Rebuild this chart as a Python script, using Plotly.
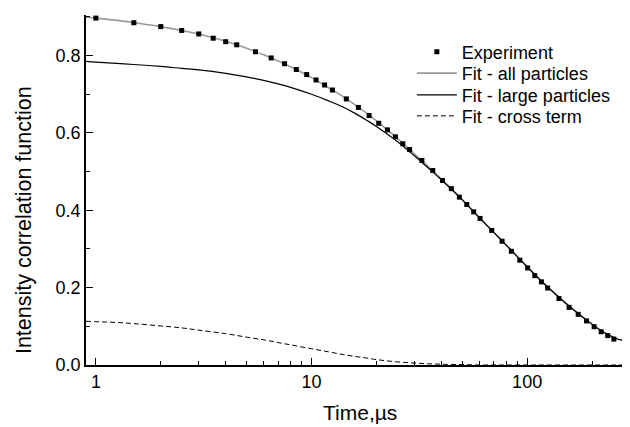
import plotly.graph_objects as go

# Experimental data (time in microseconds, intensity correlation)
exp_t = [1, 1.5, 2, 2.5, 3, 3.5, 4, 4.5,
         5.5, 6.5, 7.5, 8.5, 9.5, 10.5, 11.5, 12.5,
         14.5, 16.5, 18.5, 20.5, 22.5, 24.5, 26.5, 28.5,
         32.5, 36.5, 40.5, 44.5, 48.5, 52.5, 56.5, 60.5,
         68.5, 76.5, 84.5, 92.5, 100.5, 108.5, 116.5, 124.5,
         140.5, 156.5, 172.5, 188.5, 204.5, 220.5, 236.5, 252.5,
         284.5]
exp_g = [0.897, 0.885, 0.875, 0.865, 0.856, 0.845, 0.836, 0.828,
         0.810, 0.794, 0.779, 0.764, 0.751, 0.737, 0.724, 0.711,
         0.688, 0.666, 0.645, 0.625, 0.608, 0.590, 0.572, 0.557,
         0.529, 0.503, 0.477, 0.456, 0.434, 0.415, 0.396, 0.379,
         0.348, 0.320, 0.294, 0.271, 0.251, 0.231, 0.215, 0.199,
         0.172, 0.149, 0.131, 0.114, 0.099, 0.086, 0.076, 0.067,
         0.054]

# Fit curves sampled at these times
fit_t = [0.9, 1, 1.25, 1.5, 2, 2.5, 3, 4, 5, 6, 7, 8, 10, 12, 14, 16, 18, 20,
         25, 30, 35, 40, 50, 60, 70, 80, 100, 120, 150, 180, 220, 260, 300]
fit_all = [0.899, 0.897, 0.891, 0.885, 0.875, 0.865, 0.856, 0.837, 0.819, 0.802,
           0.786, 0.771, 0.743, 0.717, 0.694, 0.672, 0.651, 0.631,
           0.586, 0.546, 0.512, 0.481, 0.428, 0.381, 0.343, 0.310, 0.254,
           0.210, 0.161, 0.125, 0.089, 0.068, 0.061]
fit_large = [0.785, 0.783, 0.780, 0.777, 0.772, 0.767, 0.763, 0.754, 0.745, 0.736,
             0.727, 0.718, 0.700, 0.683, 0.667, 0.650, 0.633, 0.617,
             0.578, 0.541, 0.508, 0.479, 0.427, 0.381, 0.343, 0.310, 0.254,
             0.210, 0.161, 0.125, 0.089, 0.068, 0.061]
fit_cross = [0.113, 0.112, 0.110, 0.107, 0.101, 0.096, 0.090, 0.081, 0.072, 0.065,
             0.058, 0.052, 0.042, 0.034, 0.027, 0.022, 0.018, 0.014,
             0.008, 0.005, 0.003, 0.002, 0.001, 0.0, 0.0, 0.0, 0.0,
             0.0, 0.0, 0.0, 0.0, 0.0, 0.0]

x_ticks = [1, 10, 100]
x_labels = ["1", "10", "100"]
y_ticks = [0.0, 0.2, 0.4, 0.6, 0.8]
y_labels = ["0.0", "0.2", "0.4", "0.6", "0.8"]

FONT = "Liberation Sans, Arial, sans-serif"

fig = go.Figure()
fig.add_trace(go.Scatter(x=fit_t, y=fit_all, mode="lines", name="Fit - all particles",
                         line=dict(color="#9a9a9a", width=1.6, shape="spline"),
                         legend="legend2"))
fig.add_trace(go.Scatter(x=fit_t, y=fit_large, mode="lines", name="Fit - large particles",
                         line=dict(color="black", width=1.2, shape="spline"),
                         legend="legend3"))
fig.add_trace(go.Scatter(x=fit_t, y=fit_cross, mode="lines", name="Fit - cross term",
                         line=dict(color="black", width=1, dash="5px,3px", shape="spline"),
                         legend="legend4"))
fig.add_trace(go.Scatter(x=exp_t, y=exp_g, mode="markers", name="Experiment",
                         marker=dict(symbol="square", size=5, color="black"),
                         legend="legend"))

leg_common = dict(x=0.599, xanchor="left", yanchor="middle",
                  bgcolor="rgba(0,0,0,0)", font=dict(size=18, family=FONT),
                  itemwidth=40, borderwidth=0)

# page body has an 8px margin: shrink the figure so it ends at the window edge
fig.update_layout(
    width=622, height=419,
    margin=dict(l=78, r=0, t=7, b=62),
    paper_bgcolor="white", plot_bgcolor="white",
    font=dict(family=FONT, size=18, color="black"),
    showlegend=True,
    legend=dict(y=0.894, **leg_common),
    legend2=dict(y=0.833, **leg_common),
    legend3=dict(y=0.771, **leg_common),
    legend4=dict(y=0.711, **leg_common),
    xaxis=dict(type="log", range=[-0.0458, 2.477],
               tickvals=x_ticks, ticktext=x_labels,
               ticks="inside", ticklen=7, tickwidth=1.2, tickcolor="black",
               showline=True, linecolor="black", linewidth=1.5,
               showgrid=False, zeroline=False,
               minor=dict(ticks="inside", ticklen=4, tickwidth=1, tickcolor="black",
                          dtick="D1", showgrid=False),
               tickfont=dict(size=18), automargin=False),
    yaxis=dict(range=[0, 0.905],
               tickvals=y_ticks, ticktext=y_labels,
               ticks="inside", ticklen=7, tickwidth=1.2, tickcolor="black",
               showline=True, linecolor="black", linewidth=1.5,
               showgrid=False, zeroline=False,
               minor=dict(ticks="inside", ticklen=4, tickwidth=1, tickcolor="black",
                          dtick=0.1, showgrid=False),
               tickfont=dict(size=18), automargin=False),
    annotations=[
        dict(text="Time,µs", xref="paper", yref="paper", x=0.504, y=-0.1714,
             xanchor="center", yanchor="bottom", showarrow=False, borderpad=0,
             font=dict(size=21, family=FONT)),
        dict(text="Intensity correlation function", xref="paper", yref="paper",
             x=-0.114, y=0.414, xanchor="center", yanchor="middle", textangle=-90,
             showarrow=False, font=dict(size=21.5, family=FONT)),
    ],
)

fig.write_html("out.html")
